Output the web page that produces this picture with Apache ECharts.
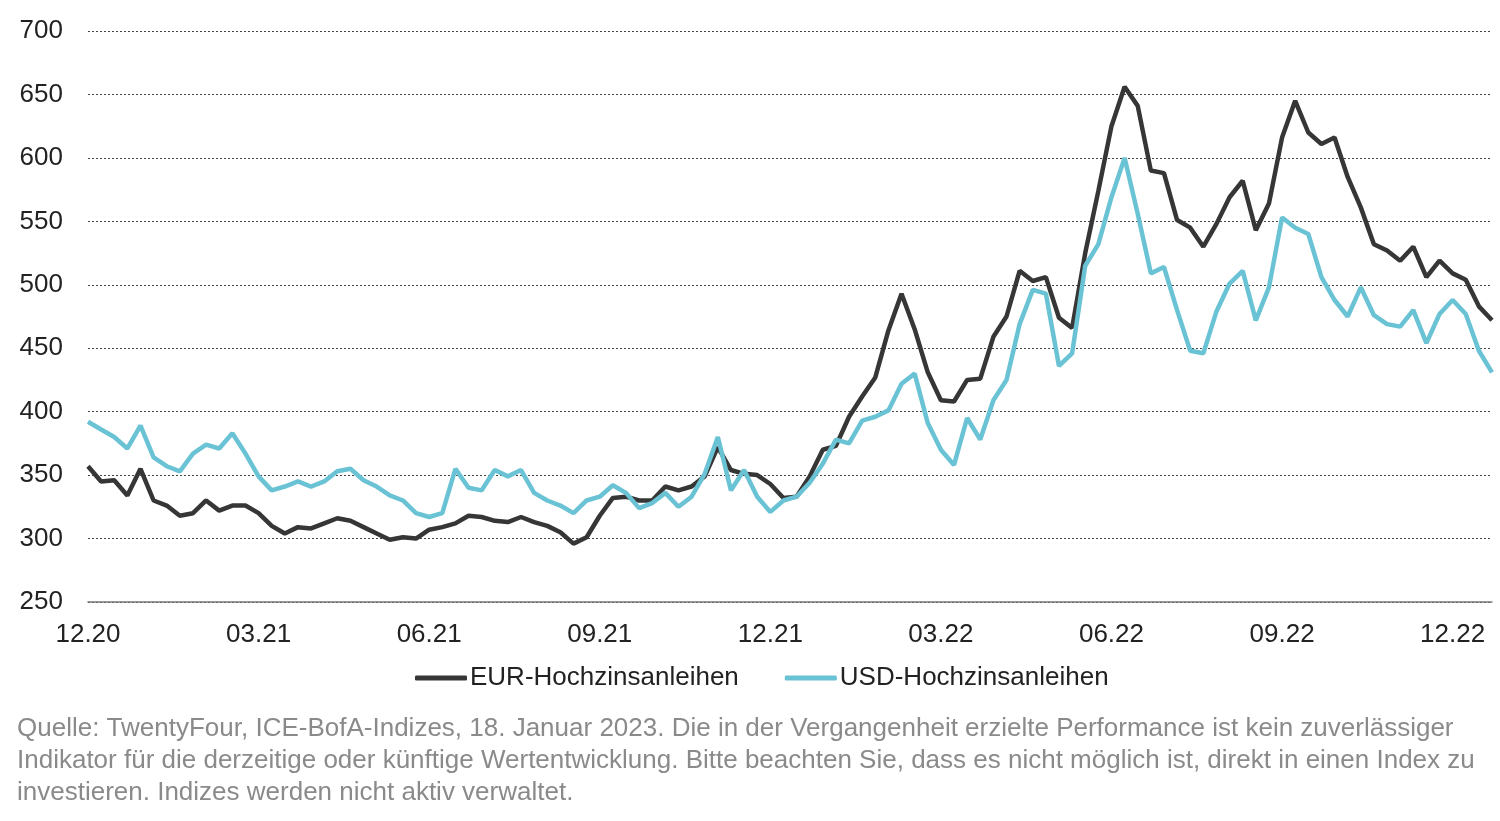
<!DOCTYPE html>
<html>
<head>
<meta charset="utf-8">
<script src="https://cdn.jsdelivr.net/npm/echarts@6/dist/echarts.min.js"></script>
<style>
  html, body { margin: 0; padding: 0; background: #fff; }
  #chart { width: 1500px; height: 821px; }
</style>
</head>
<body>
<div id="chart"></div>
<script>
// weekly observations, 31.12.2020 - 18.01.2023
const startDate = '2020-12-31';
const tickLabels = ['12.20', '03.21', '06.21', '09.21', '12.21', '03.22', '06.22', '09.22', '12.22'];
const eurValues = [
  357, 345, 346, 334, 355, 330, 326, 318, 320, 330,
  322, 326, 326, 320, 310, 304, 309, 308, 312, 316,
  314, 309, 304, 299, 301, 300, 307, 309, 312, 318,
  317, 314, 313, 317, 313, 310, 305, 296, 301, 318,
  332, 333, 330, 330, 341, 338, 341, 349, 372, 354,
  351, 350, 343, 332, 333, 349, 370, 373, 396, 412,
  427, 464, 493, 465, 431, 409, 408, 425, 426, 459,
  475, 511, 503, 506, 474, 466, 525, 574, 625, 656,
  641, 590, 588, 551, 545, 530, 548, 569, 582, 543,
  564, 616, 645, 620, 611, 616, 585, 561, 532, 527,
  519, 530, 506, 519, 509, 504, 483, 472
];
const usdValues = [
  392, 386, 380, 371, 389, 364, 357, 353, 367, 374,
  371, 383, 367, 349, 338, 341, 345, 341, 345, 353,
  355, 346, 341, 334, 330, 320, 317, 320, 355, 340,
  338, 354, 349, 354, 336, 330, 326, 320, 330, 333,
  342, 336, 324, 328, 336, 325, 333, 351, 380, 338,
  354, 333, 321, 330, 333, 344, 359, 378, 375, 393,
  396, 401, 422, 430, 391, 370, 358, 395, 378, 409,
  425, 469, 496, 493, 436, 446, 515, 532, 569, 600,
  556, 509, 514, 480, 448, 446, 479, 501, 511, 472,
  498, 553, 545, 540, 506, 488, 475, 498, 476, 469,
  467, 480, 454, 477, 488, 477, 448, 431
];

const categories = [];
for (let i = 0; i < eurValues.length; i++) {
  const d = new Date(startDate + 'T00:00:00Z');
  d.setUTCDate(d.getUTCDate() + 7 * i);
  categories.push(d.toISOString().slice(0, 10));
}

const font = '"Liberation Sans", Arial, sans-serif';
const chart = echarts.init(document.getElementById('chart'));
chart.setOption({
  animation: false,
  grid: { left: 88, right: 8, top: 31, bottom: 219 },
  legend: {
    top: 660,
    left: 410,
    itemWidth: 52,
    itemHeight: 5,
    itemGap: 46,
    icon: 'roundRect',
    textStyle: { fontFamily: font, fontSize: 26, color: '#222', padding: [0, 0, 0, -2] },
    data: ['EUR-Hochzinsanleihen', 'USD-Hochzinsanleihen']
  },
  xAxis: {
    type: 'category',
    data: categories,
    boundaryGap: false,
    axisLine: { lineStyle: { color: '#777', width: 1.5 } },
    axisTick: { show: false },
    axisLabel: {
      interval: function (i) { return i % 13 === 0; },
      formatter: function (v, i) { return tickLabels[i / 13] || ''; },
      fontFamily: font,
      fontSize: 26,
      color: '#222',
      margin: 20
    }
  },
  yAxis: {
    type: 'value',
    min: 250,
    max: 700,
    interval: 50,
    axisLine: { show: false },
    axisTick: { show: false },
    splitLine: { lineStyle: { type: [2, 2], color: '#444', width: 1 } },
    axisLabel: { fontFamily: font, fontSize: 26, color: '#222', margin: 25 }
  },
  series: [
    {
      name: 'EUR-Hochzinsanleihen',
      type: 'line',
      data: eurValues,
      showSymbol: false,
      color: '#363636',
      lineStyle: { width: 4.5, color: '#363636' }
    },
    {
      name: 'USD-Hochzinsanleihen',
      type: 'line',
      data: usdValues,
      showSymbol: false,
      color: '#6ac3d4',
      lineStyle: { width: 4.5, color: '#6ac3d4' }
    }
  ],
  graphic: [{
    type: 'text',
    left: 17,
    top: 713,
    style: {
      text: 'Quelle: TwentyFour, ICE-BofA-Indizes, 18. Januar 2023. Die in der Vergangenheit erzielte Performance ist kein zuverlässiger\n' +
            'Indikator für die derzeitige oder künftige Wertentwicklung. Bitte beachten Sie, dass es nicht möglich ist, direkt in einen Index zu\n' +
            'investieren. Indizes werden nicht aktiv verwaltet.',
      font: '26px ' + font,
      lineHeight: 32,
      fill: '#8a8a8a'
    }
  }]
});
</script>
</body>
</html>
